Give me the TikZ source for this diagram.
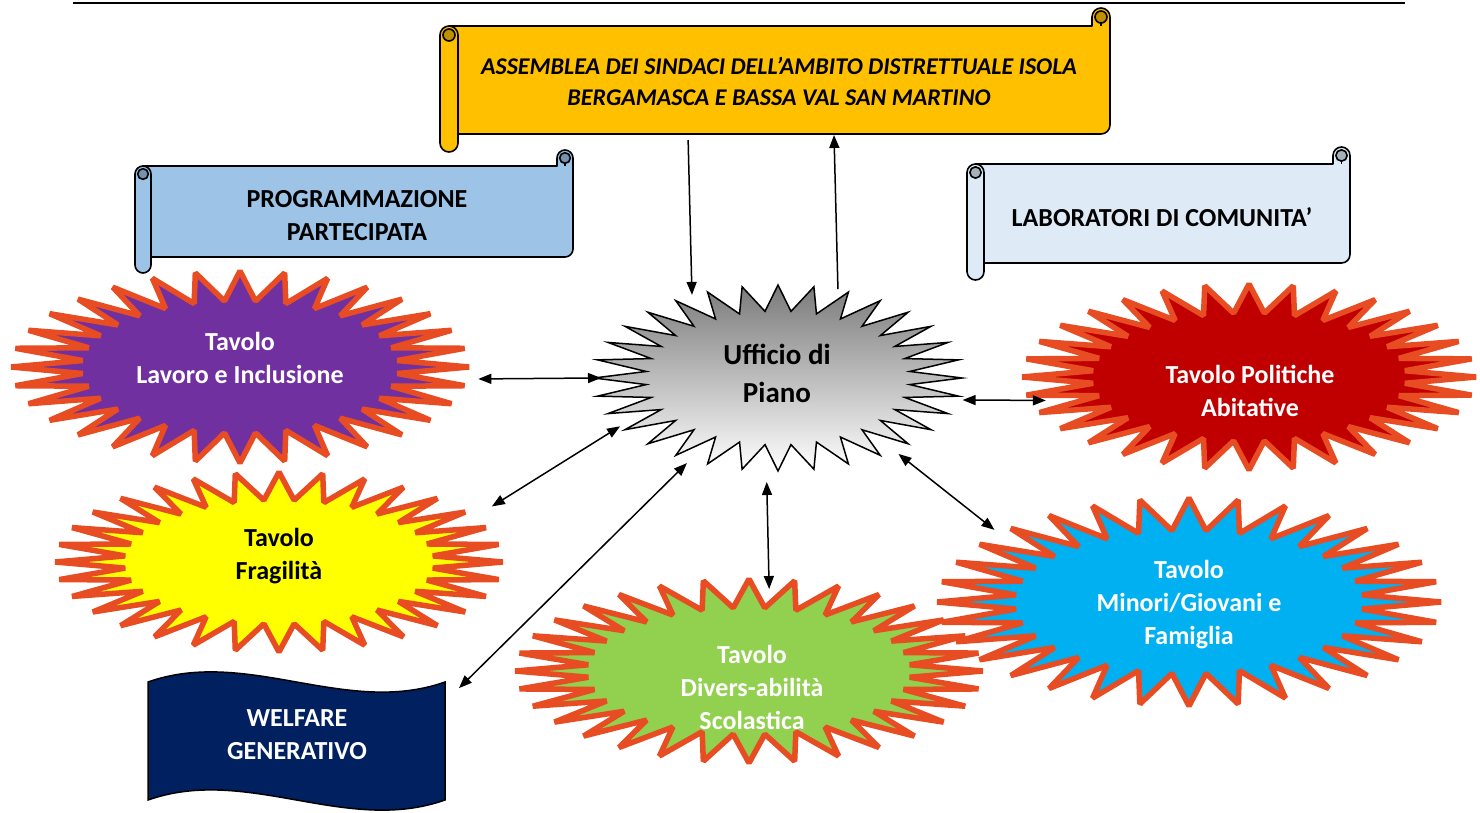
\documentclass[tikz,border=0pt]{standalone}
\usepackage{fontspec}
\setmainfont{Carlito}
\usetikzlibrary{arrows.meta,shapes.geometric}
\definecolor{scrollorange}{HTML}{FFC000}
\definecolor{scrollblue}{HTML}{9DC3E6}
\definecolor{scrolllight}{HTML}{DEEBF7}
\definecolor{welblue}{HTML}{002060}
\definecolor{lavviolet}{HTML}{7030A0}
\definecolor{frayellow}{HTML}{FFFF00}
\definecolor{divgreen}{HTML}{92D050}
\definecolor{mincyan}{HTML}{00B0F0}
\definecolor{polred}{HTML}{C00000}
\definecolor{burstred}{HTML}{E84C22}
\tikzset{
  scrollline/.style={draw=black, line width=1.6pt, line join=round},
  burstline/.style={draw=burstred, line width=5.5pt, line join=bevel},
  darr/.style={line width=1.5pt, {Triangle[length=13pt,width=10pt]}-{Triangle[length=13pt,width=10pt]}},
  sarr/.style={line width=1.5pt, -{Triangle[length=13pt,width=10pt]}},
  hold/.style={inner sep=0pt, outer sep=0pt},
  holdE/.style={ellipse, inner sep=0pt, outer sep=0pt},
  lbl/.style={align=center, font=\fontsize{26}{33}\selectfont\bfseries, inner sep=0pt},
}
% horizontal scroll: L T R B ch colour
\newcommand\hscroll[6]{%
  \pgfmathsetmacro\chh{#5/2}\pgfmathsetmacro\chq{#5/4}\pgfmathsetmacro\chc{#5/3}%
  \draw[scrollline, fill=#6] (#1+\chh,#2+#5) -- (#3-#5,#2+#5) -- (#3-#5,#2+\chh)
     arc[start angle=180, end angle=0, radius=\chh pt] -- (#3,#4-#5-\chh)
     arc[start angle=0, end angle=-90, radius=\chh pt] -- (#1+\chh,#4-#5) -- cycle;
  \draw[scrollline, fill=#6] (#1,#2+#5+\chh) arc[start angle=180, end angle=0, radius=\chh pt]
     -- (#1+#5,#4-\chh) arc[start angle=0, end angle=-180, radius=\chh pt] -- cycle;
  \draw[scrollline, fill=#6!75!black] (#1+\chh,#2+#5+\chh) circle[radius=\chc pt];
  \draw[scrollline, fill=#6!75!black] (#3-\chh,#2+\chh) circle[radius=\chc pt];
  \draw[scrollline] (#3-\chh,#2+\chh+\chc) -- (#3-\chh,#2+#5);
}
% 32-point star: cx cy rx ry inner-ratio style
\newcommand\burst[6]{%
  \draw[#6] plot[variable=\t, samples=65, domain=0:360]
    ({#1+#3*(1-(1-#5)*mod(round(\t/5.625),2))*cos(\t)},
     {#2+#4*(1-(1-#5)*mod(round(\t/5.625),2))*sin(\t)}) -- cycle;
}
\begin{document}
\begin{tikzpicture}[x=1pt, y=-1pt]
\useasboundingbox (0,0) rectangle (1480,812);
\draw[line width=2.2pt] (73,3) -- (1405,3);

% bursts
\burst{240}{367}{229}{96}{0.69}{burstline, fill=lavviolet}
\burst{279}{562}{224}{90}{0.69}{burstline, fill=frayellow}
\burst{749}{671}{234}{92}{0.69}{burstline, fill=divgreen}
\burst{1249}{377}{227}{93}{0.69}{burstline, fill=polred}
\burst{1189}{602}{252}{104}{0.69}{burstline, fill=mincyan}
\burst{778}{378}{184}{93}{0.72}{draw=black, line width=1.5pt, line join=miter, top color=black!52, bottom color=white}

% scrolls
\hscroll{440}{8}{1110}{152}{18}{scrollorange}
\hscroll{135}{150}{573}{273}{16}{scrollblue}
\hscroll{967}{147}{1350}{280}{17}{scrolllight}

% wave
\draw[fill=welblue, draw=black, line width=1.5pt] (148,682) .. controls (247,647) and (346,717) .. (445,682)
  -- (445,800) .. controls (346,835) and (247,765) .. (148,800) -- cycle;

% holder nodes (geometry)
\node[hold, minimum width=655pt, minimum height=109pt] (asmN) at (782.5,80.5) {};
\node[hold, minimum width=297pt, minimum height=134pt] (welN) at (296.5,739) {};
\node[holdE, minimum width=368pt, minimum height=188pt] (uffE) at (778,378) {};
\node[holdE, minimum width=462pt, minimum height=196pt] (lavE) at (240,367) {};
\node[holdE, minimum width=452pt, minimum height=184pt] (fraE) at (279,562) {};
\node[holdE, minimum width=472pt, minimum height=188pt] (divE) at (749,671) {};
\node[holdE, minimum width=508pt, minimum height=212pt] (minE) at (1189,602) {};
\node[holdE, minimum width=458pt, minimum height=190pt] (polE) at (1249,377) {};

% labels
\node[lbl, font=\fontsize{24}{31}\selectfont\bfseries\itshape] (tasm) at (779,81) {ASSEMBLEA DEI SINDACI DELL’AMBITO DISTRETTUALE ISOLA\\BERGAMASCA E BASSA VAL SAN MARTINO};
\node[lbl] (tprog) at (357,216) {PROGRAMMAZIONE\\PARTECIPATA};
\node[lbl] (tlab) at (1162,217) {LABORATORI DI COMUNITA’};
\node[lbl, text=white] (twel) at (297,735) {WELFARE\\GENERATIVO};
\node[lbl, font=\fontsize{29}{38}\selectfont\bfseries] (tuff) at (777,373) {Ufficio di\\Piano};
\node[lbl, text=white] (tlav) at (240,358) {Tavolo\\Lavoro e Inclusione};
\node[lbl] (tfra) at (279,556) {Tavolo\\Fragilità};
\node[lbl, text=white] (tdiv) at (752,687) {Tavolo\\Divers-abilità\\Scolastica};
\node[lbl, text=white] (tmin) at (1189,605) {Tavolo\\Minori/Giovani e\\Famiglia};
\node[lbl, text=white] (tpol) at (1250,391) {Tavolo Politiche\\Abitative};

% connectors
\draw[sarr, shorten <=5pt] ([xshift=-94.5pt]asmN.south) -- (uffE.136);
\draw[sarr] (uffE.56) -- ([xshift=51.5pt]asmN.south);
\draw[darr, shorten <=9.1pt, shorten >=-7pt] (lavE.357) -- (uffE.180);
\draw[darr, shorten <=19.2pt] (fraE.13) -- (uffE.197);
\draw[darr, shorten <=19.7pt, shorten >=3.8pt] (welN.14) -- (uffE.223);
\draw[darr, shorten <=10.2pt, shorten >=-11.7pt] (uffE.263) -- (divE.78);
\draw[darr, shorten <=5.1pt, shorten >=4pt] (uffE.328) -- (minE.160);
\draw[darr, shorten <=5.7pt, shorten >=-18.8pt] (uffE.353) -- (polE.186);
\end{tikzpicture}
\end{document}
